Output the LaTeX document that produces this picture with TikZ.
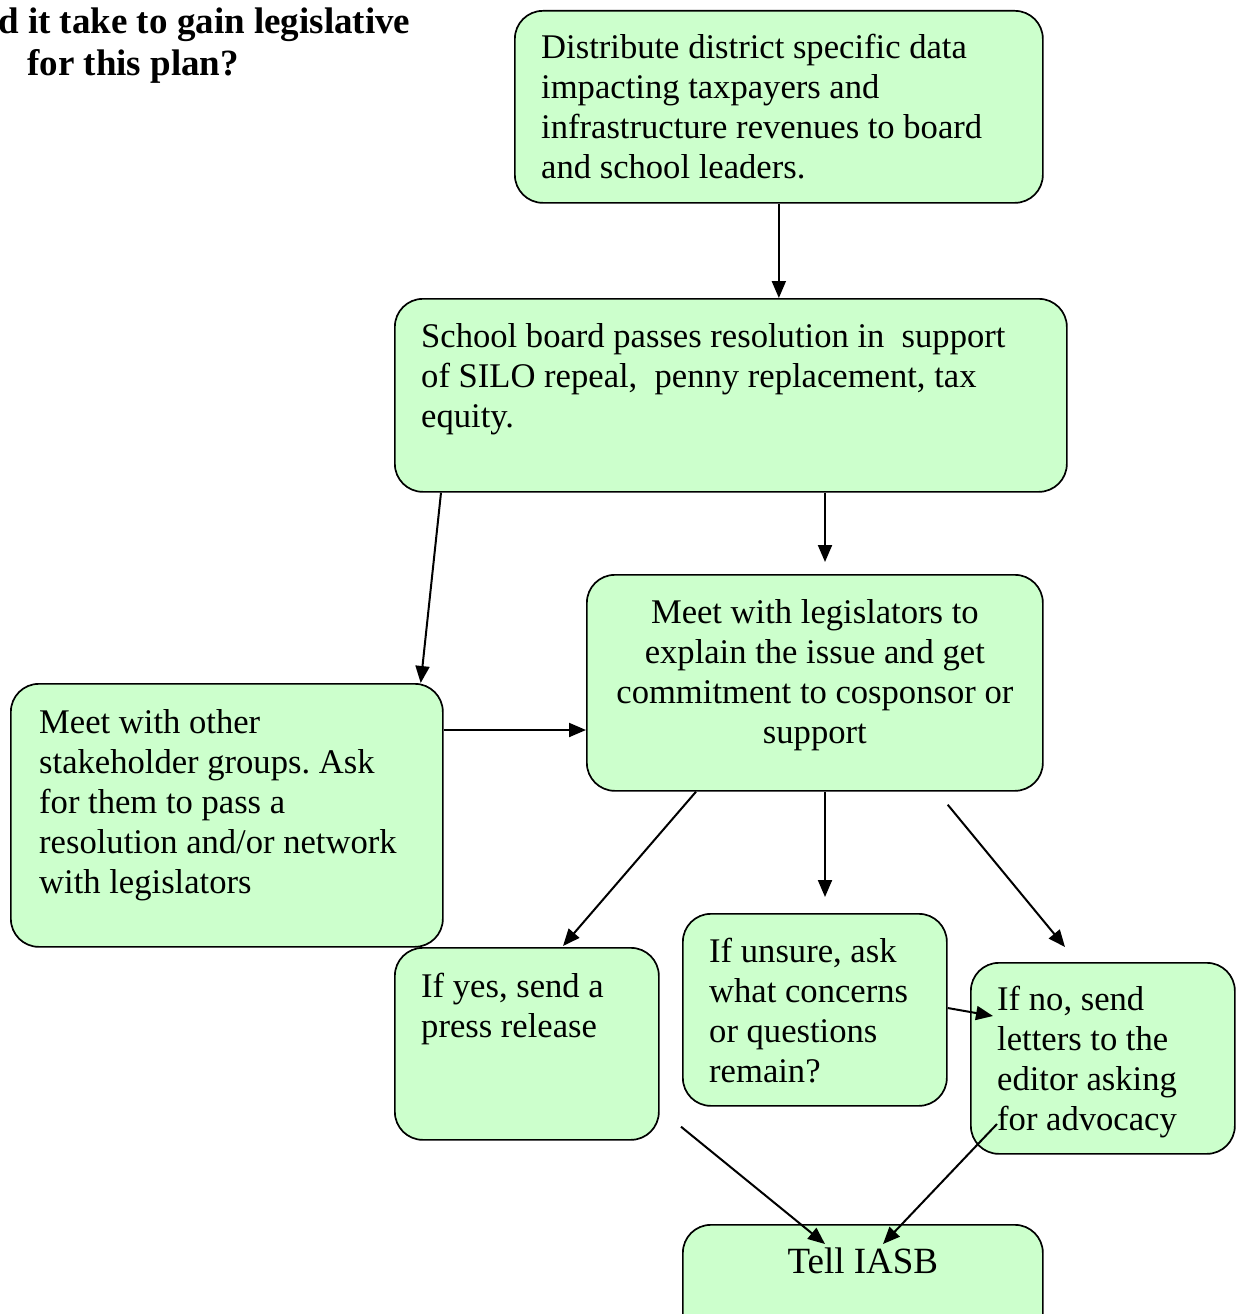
\documentclass[tikz,border=0pt]{standalone}
\usepackage{fontspec}
\setmainfont{Liberation Serif}
\usetikzlibrary{arrows.meta, calc}
\definecolor{boxgreen}{HTML}{CCFFCC}
\frenchspacing

\begin{document}
\begin{tikzpicture}[x=1pt, y=-1pt,
  box/.style={draw, line width=1.7pt, rounded corners=28pt, fill=boxgreen,
    anchor=north west, inner sep=0pt},
  txt/.style={anchor=north west, inner sep=0pt, align=left,
    font=\fontsize{34.6}{40}\selectfont},
  arr/.style={line width=2pt, -{Triangle[length=17pt,width=14pt]}}]
  \useasboundingbox (0,0) rectangle (1238,1314);

  % Heading
  \node[anchor=base west, inner sep=0pt, font=\bfseries\fontsize{37}{42}\selectfont]
    (head1) at (-2,34) {d it take to gain legislative};
  \node[anchor=base west, inner sep=0pt, font=\bfseries\fontsize{37}{42}\selectfont]
    (head2) at (27,76) {for this plan?};

  % Boxes
  \node[box, minimum width=528pt, minimum height=192pt] (dist) at (514,10) {};
  \node[box, minimum width=672pt, minimum height=193pt] (school) at (394,298) {};
  \node[box, minimum width=456pt, minimum height=216pt] (legis) at (586,574) {};
  \node[box, minimum width=432pt, minimum height=263pt] (other) at (10,683) {};
  \node[box, minimum width=264pt, minimum height=192pt] (yes) at (394,947) {};
  \node[box, minimum width=264pt, minimum height=192pt] (unsure) at (682,913) {};
  \node[box, minimum width=264pt, minimum height=191pt] (no) at (970,962) {};
  \node[box, minimum width=360pt, minimum height=130pt] (tell) at (682,1224) {};

  % Texts
  \node[txt] (distT) at ($(dist.north west)+(27,24)$)
    {Distribute district specific data\\ impacting taxpayers and\\
     infrastructure revenues to board\\ and school leaders.};
  \node[txt] (schoolT) at ($(school.north west)+(27,25)$)
    {School board passes resolution in\ \ support\\
     of SILO repeal,\ \ penny replacement, tax\\ equity.};
  \node[txt, anchor=north, align=center] (legisT) at ($(legis.north)+(0,25)$)
    {Meet with legislators to\\ explain the issue and get\\
     commitment to cosponsor or\\ support};
  \node[txt] (otherT) at ($(other.north west)+(29,26)$)
    {Meet with other\\ stakeholder groups. Ask\\ for them to pass a\\
     resolution and/or network\\ with legislators};
  \node[txt] (yesT) at ($(yes.north west)+(27,26)$)
    {If yes, send a\\ press release};
  \node[txt] (unsureT) at ($(unsure.north west)+(27,25)$)
    {If unsure, ask\\ what concerns\\ or questions\\ remain?};
  \node[txt] (noT) at ($(no.north west)+(27,24)$)
    {If no, send\\ letters to the\\ editor asking\\ for advocacy};
  \node[anchor=base, inner sep=0pt, font=\fontsize{37}{42}\selectfont]
    (tellT) at ($(tell.north)+(0,49)$) {Tell IASB};

  % Free arrow ends
  \coordinate (legisIn) at ($(legis.north west)+(239,-12)$);
  \coordinate (unsureIn) at ($(unsure.north west)+(143,-16)$);
  \coordinate (noOut) at ($(legis.south east)+(-96,13)$);
  \coordinate (noIn) at ($(no.north west)+(95,-15)$);

  % Arrows
  \draw[arr] (dist.south) -- (dist.south |- school.north);
  \draw[arr] ($(school.south west)+(47,0)$) -- ($(other.north east)+(-23,0)$);
  \draw[arr] ($(school.south west)+(431,0)$) -- (legisIn);
  \draw[arr] ($(other.north east)+(0,47)$) -- ($(legis.north west)+(0,156)$);
  \draw[arr] ($(legis.south west)+(110,0)$) -- ($(yes.north west)+(169,-1)$);
  \draw[arr] ($(legis.south west)+(239,0)$) -- (unsureIn);
  \draw[arr] (noOut) -- (noIn);
  \draw[arr] ($(unsure.north east)+(0,95)$) -- ($(no.north west)+(23,54)$);
  \draw[arr] ($(unsure.south west)+(-1,20)$) -- ($(tell.north west)+(143,20)$);
  \draw[arr] ($(no.north west)+(27,162)$) -- ($(tell.north west)+(201,20)$);
\end{tikzpicture}
\end{document}
